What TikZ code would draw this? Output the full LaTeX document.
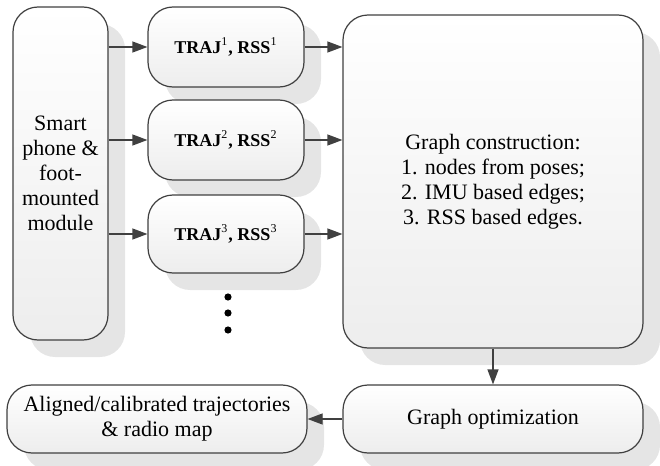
\documentclass[tikz,border=0pt]{standalone}
\usepackage{fontspec}
\setmainfont{Liberation Serif}
\usetikzlibrary{arrows.meta,shadows}

\begin{document}
\begin{tikzpicture}[x=0.5pt,y=-0.5pt,>={Triangle[length=7.5pt,width=5.5pt]}]
\tikzstyle{box}=[rectangle,draw=black!75,line width=0.6pt,rounded corners=12.5pt,top color=white,bottom color=black!7,drop shadow={shadow xshift=8.5pt,shadow yshift=-8.5pt,fill=black!10,opacity=1},align=center,inner sep=2pt,font=\fontsize{11}{12.5}\selectfont]
\tikzstyle{traj}=[box,minimum width=78pt,minimum height=40pt,font=\fontsize{9}{11}\selectfont\bfseries]
\tikzstyle{wide}=[box,minimum width=150pt,minimum height=34pt]
\tikzstyle{link}=[->,draw=black!75,line width=0.6pt]
\useasboundingbox (0,0) rectangle (660,466);
\node[box,minimum width=47.5pt,minimum height=166.5pt] (phone) at (60.5,173.5) {Smart\\phone \&\\foot-\\mounted\\module};
\node[traj] (t1) at (226,47) {TRAJ\textsuperscript{\mdseries 1}, RSS\textsuperscript{\mdseries 1}};
\node[traj] (t2) at (226,140) {TRAJ\textsuperscript{\mdseries 2}, RSS\textsuperscript{\mdseries 2}};
\node[traj,minimum height=39pt] (t3) at (226,234) {TRAJ\textsuperscript{\mdseries 3}, RSS\textsuperscript{\mdseries 3}};
\node[box,minimum width=150pt,minimum height=166.5pt] (graph) at (493,181.5) {Graph construction:\\1. nodes from poses;\\2. IMU based edges;\\3. RSS based edges.};
\node[wide] (opt) at (493,419) {Graph optimization};
\node[wide] (map) at (157,419) {Aligned/calibrated trajectories\\\& radio map};
\foreach \y in {297,313,330} \fill (228,\y) circle (1.8pt);
\foreach \t in {t1,t2,t3} {
  \draw[link] (phone.east |- \t.west) -- (\t.west);
  \draw[link] (\t.east) -- (\t.east -| graph.west);
}
\draw[link] (graph.south) -- (opt.north);
\draw[link] (opt.west) -- (map.east);
\end{tikzpicture}
\end{document}
